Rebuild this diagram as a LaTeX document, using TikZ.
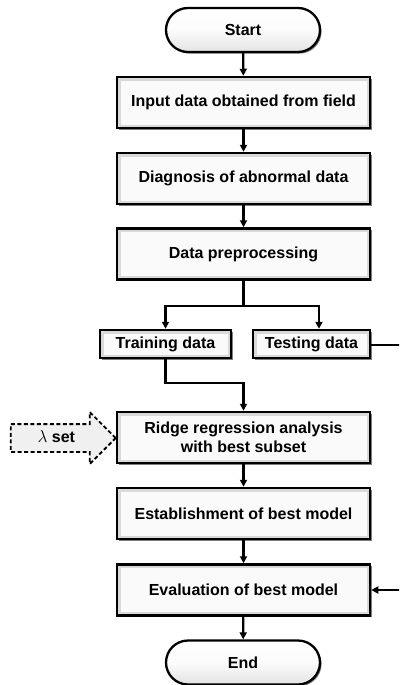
\documentclass[tikz,border=0pt]{standalone}
\usepackage{fontspec}
\setmainfont{Liberation Sans}
\usetikzlibrary{shapes.arrows,shadows,arrows.meta}
\begin{document}
\begin{tikzpicture}[x=1pt,y=-1pt,
  font=\fontsize{16}{19.5}\selectfont\bfseries,
  bevel/.style={path picture={\draw[gray!30, line width=7pt] (path picture bounding box.south west) rectangle (path picture bounding box.north east);}},
  shade/.style={drop shadow={shadow xshift=1.6pt, shadow yshift=-1.6pt, fill=black!60, opacity=0.85}},
  procbox/.style={draw, line width=2.5pt, fill=gray!4, minimum width=253pt, minimum height=51pt, inner sep=0pt, align=center, shade, bevel},
  smallbox/.style={draw, line width=2.5pt, fill=gray!4, minimum height=28pt, inner sep=0pt, align=center, shade, bevel},
  termbox/.style={draw, line width=2.3pt, top color=white, bottom color=gray!22, middle color=gray!3, minimum width=154pt, minimum height=44pt, rounded corners=22pt, inner sep=0pt, shade},
  lam/.style={single arrow, draw, dash pattern=on 4pt off 2.5pt, line width=1.8pt, fill=gray!12, minimum height=105pt, single arrow head extend=12pt, single arrow head indent=0pt, text height=11pt, text depth=3pt, inner ysep=6pt, inner xsep=4pt},
  arr/.style={line width=2.3pt, -{Triangle[length=7pt,width=7pt]}},
  ln/.style={line width=2.3pt}
]
\clip (0,0) rectangle (399,685);
\node[termbox] (start) at (243,30) {Start};
\node[procbox] (input) at (243.5,102.5) {Input data obtained from field};
\node[procbox] (diag) at (243.5,178.5) {Diagnosis of abnormal data};
\node[procbox] (prep) at (243.5,254) {Data preprocessing};
\node[smallbox, minimum width=131pt] (train) at (165.5,344) {Training data};
\node[smallbox, minimum width=117pt] (test) at (311.5,344) {Testing data};
\node[procbox] (ridge) at (243.5,437.5) {Ridge regression analysis\\with best subset};
\node[procbox] (estab) at (243.5,513.5) {Establishment of best model};
\node[procbox] (eval) at (243.5,590) {Evaluation of best model};
\node[termbox] (end) at (243,662.5) {End};
\node[lam, anchor=tip] (lam) at (117,438) {$\lambda$ set};

\coordinate (split) at (243.5,306);
\coordinate (join) at (243.5,383);
\coordinate (far) at (412,345);

\draw[arr] (start) -- (input);
\draw[arr] (input) -- (diag);
\draw[arr] (diag) -- (prep);
\draw[ln] (prep) -- (split);
\draw[arr] (split) -| (train);
\draw[arr] (split) -| ([xshift=7.5pt]test.north);
\draw[arr] (train) |- (join) -- (ridge);
\draw[arr] (ridge) -- (estab);
\draw[arr] (estab) -- (eval);
\draw[arr] (eval) -- (end);
\draw[arr] (test.east |- far) -- (far) |- (eval);
\end{tikzpicture}
\end{document}
